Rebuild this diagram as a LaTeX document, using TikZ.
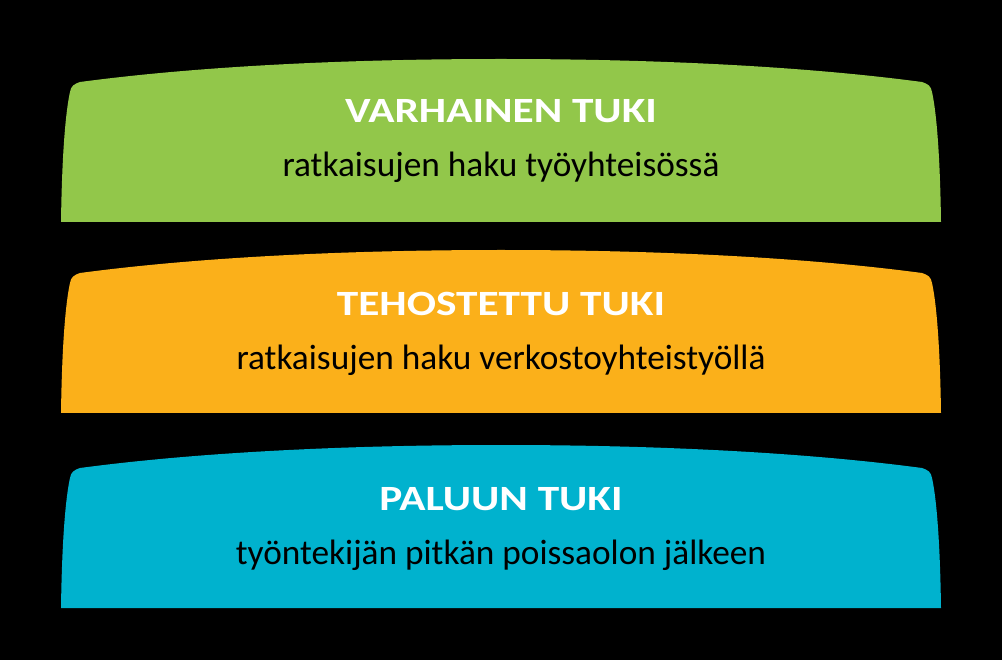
\documentclass[tikz,border=0pt]{standalone}
\usepackage{fontspec}
\setmainfont{Carlito}
\usetikzlibrary{positioning}
\definecolor{varhainen}{HTML}{92C74A}
\definecolor{tehostettu}{HTML}{FBB01A}
\definecolor{paluu}{HTML}{00B2CE}
\newcommand{\widetitle}[1]{\scalebox{1.22}[1]{#1}} % titles are set wide
\tikzset{
	x=1pt, y=-1pt, % pixel-like coordinates
	band/.pic={ % arched band with rounded top corners
		\fill (61,222) .. controls (62,150) and (66,110) .. (70,92)
			.. controls (71,86) and (74,84) .. (80,82)
			.. controls (200,66) and (350,59) .. (501,59)
			.. controls (652,59) and (802,66) .. (922,82)
			.. controls (928,84) and (931,86) .. (932,92)
			.. controls (936,110) and (940,150) .. (941,222) -- cycle;
	},
	title/.style={text=white, font=\fontsize{35.5}{40}\selectfont\bfseries, anchor=base},
	subtitle/.style={text=black, font=\fontsize{35.3}{40}\selectfont, anchor=base},
}
\begin{document}
\begin{tikzpicture}
	% Background
	\fill[black] (0,0) rectangle (1002,660);
	\useasboundingbox (0,0) rectangle (1002,660);
	
	% Bands
	\pic[fill=varhainen] at (0,0) {band};
	\pic[fill=tehostettu] at (0,191) {band};
	\pic[fill=paluu] at (0,386) {band};
	
	% Texts
	\node[title] (t1) at (501,123) {\widetitle{VARHAINEN TUKI}};
	\node[subtitle] (s1) at (501,177) {ratkaisujen haku työyhteisössä};
	\node[title] (t2) at (501,316) {\widetitle{TEHOSTETTU TUKI}};
	\node[subtitle] (s2) at (501,370) {ratkaisujen haku verkostoyhteistyöllä};
	\node[title] (t3) at (501,510) {\widetitle{PALUUN TUKI}};
	\node[subtitle] (s3) at (501,564) {työntekijän pitkän poissaolon jälkeen};
\end{tikzpicture}
\end{document}
